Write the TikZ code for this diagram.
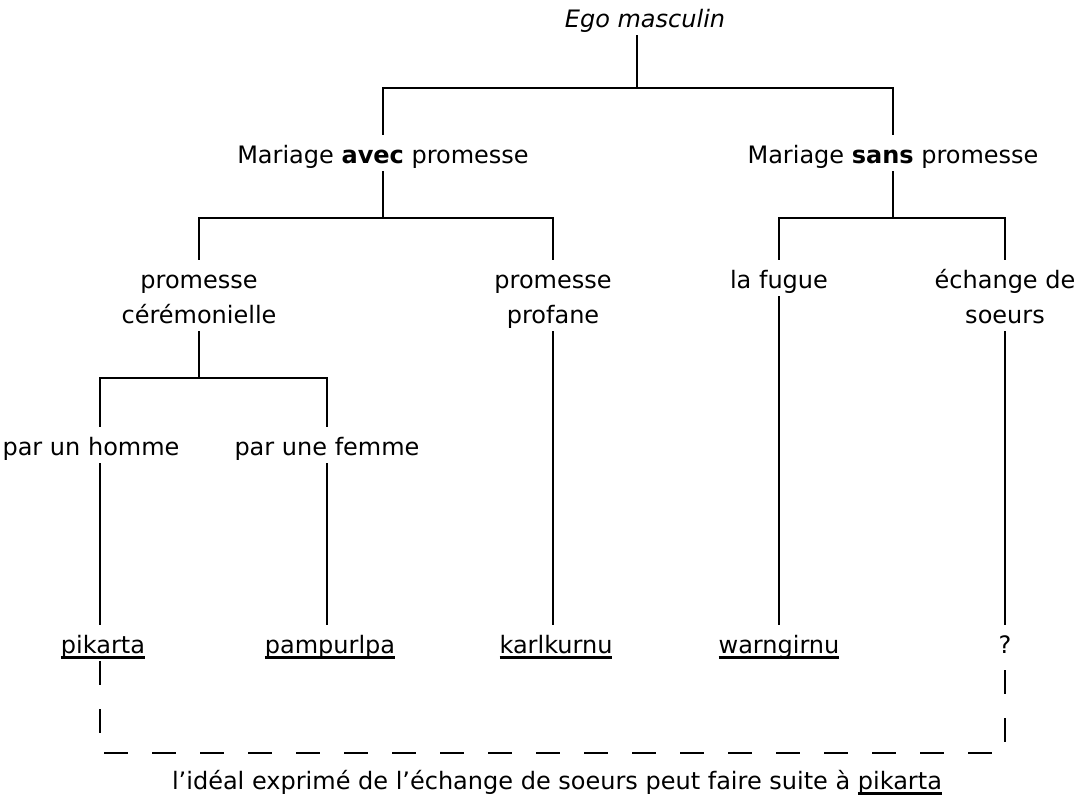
\documentclass[tikz,border=0pt]{standalone}
\usepackage{fontspec}
\setmainfont{DejaVu Sans}
\newcommand\fs{\fontsize{24}{35}\selectfont}
\newcommand\ulword[1]{\setbox0\hbox{#1}\rlap{\rule[-5.5pt]{\wd0}{2.5pt}}\box0}
\begin{document}
\begin{tikzpicture}[x=1pt,y=-1pt,
  lbl/.style={font=\fs, anchor=base, inner xsep=0pt, inner ysep=7pt, text height=21pt, text depth=1pt},
  conn/.style={line width=2.2pt},
  dashconn/.style={line width=2.2pt, dash pattern=on 24pt off 24pt}]
\useasboundingbox (0,0) rectangle (1078,796);
% labels
\node[lbl, font=\fontsize{24}{30}\selectfont\itshape] (ego) at (645,27) {Ego masculin};
\node[lbl] (avec) at (383,163) {Mariage \textbf{avec} promesse};
\node[lbl] (sans) at (893,163) {Mariage \textbf{sans} promesse};
\node[lbl] (cer1) at (199,288) {promesse};
\node[lbl] (cer2) at (199,323) {cérémonielle};
\node[lbl] (prof1) at (553,288) {promesse};
\node[lbl] (prof2) at (553,323) {profane};
\node[lbl] (fugue) at (779,288) {la fugue};
\node[lbl] (ech1) at (1005,288) {échange de};
\node[lbl] (ech2) at (1005,323) {soeurs};
\node[lbl] (homme) at (91,455) {par un homme};
\node[lbl] (femme) at (327,455) {par une femme};
\node[lbl] (pik) at (103,653) {\ulword{pikarta}};
\node[lbl] (pamp) at (330,653) {\ulword{pampurlpa}};
\node[lbl] (karl) at (556,653) {\ulword{karlkurnu}};
\node[lbl] (warn) at (779,653) {\ulword{warngirnu}};
\node[lbl] (q) at (1005,653) {?};
\node[lbl] (cap) at (557,789) {l’idéal exprimé de l’échange de soeurs peut faire suite à \ulword{pikarta}};
% junctions
\coordinate (j0) at (637,88);
\coordinate (jA) at (383,218);
\coordinate (jS) at (893,218);
\coordinate (jC) at (199,378);
\coordinate (lh) at (100,0);
\coordinate (lf) at (327,0);
\coordinate (dl) at (100,753);
\coordinate (dr) at (1005,753);
% connectors
\draw[conn] (ego.south -| j0) -- (j0);
\draw[conn] (avec.north) |- (j0) -| (sans.north);
\draw[conn] (avec.south) -- (jA);
\draw[conn] (cer1.north) |- (jA) -| (prof1.north);
\draw[conn] (sans.south) -- (jS);
\draw[conn] (fugue.north) |- (jS) -| (ech1.north);
\draw[conn] (cer2.south) -- (jC);
\draw[conn] (homme.north -| lh) |- (jC) -| (femme.north -| lf);
\draw[conn] (homme.south -| lh) -- (pik.north -| lh);
\draw[conn] (femme.south -| lf) -- (pamp.north -| lf);
\draw[conn] (prof2.south) -- (karl.north -| prof2.south);
\draw[conn] (fugue.south) -- (warn.north -| fugue.south);
\draw[conn] (ech2.south) -- (q.north);
\draw[dashconn] (pik.south -| lh) -- (dl) -- (dr) -- (q.south);
\end{tikzpicture}
\end{document}
